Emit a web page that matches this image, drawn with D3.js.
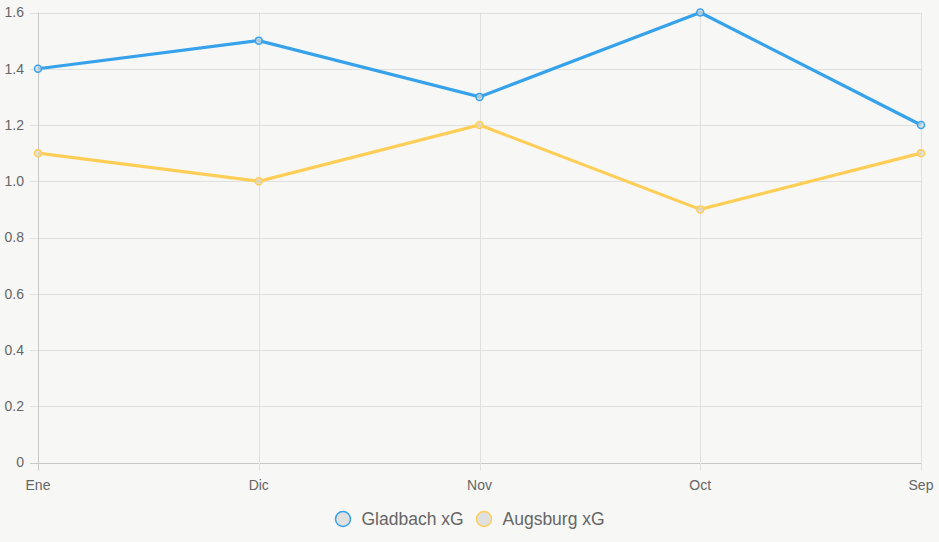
<!DOCTYPE html>
<html>
<head>
<meta charset="utf-8">
<script src="https://cdn.jsdelivr.net/npm/d3@7"></script>
<style>
  body { margin: 0; background: #f7f7f5; }
  svg { display: block; }
</style>
</head>
<body>
<div id="chart"></div>
<script>
// Data
var months = ["Ene", "Dic", "Nov", "Oct", "Sep"];
var gladbach = [1.4, 1.5, 1.3, 1.6, 1.2];
var augsburg = [1.1, 1.0, 1.2, 0.9, 1.1];
var yTicks = [0, 0.2, 0.4, 0.6, 0.8, 1.0, 1.2, 1.4, 1.6];
var seriesNames = ["Gladbach xG", "Augsburg xG"];
var colors = ["#36a2eb", "#ffce56"];

// plot area (top is reserved by window, so use other names)
var w = 939, h = 542;
var plotLeft = 38, plotRight = 921, plotTop = 12.5, plotBottom = 462.5;

var svg = d3.select("#chart").append("svg")
    .attr("width", w)
    .attr("height", h)
    .style("font-family", "'Liberation Sans', Arial, sans-serif");

var xScale = d3.scalePoint().domain(months).range([plotLeft, plotRight]);
var yScale = d3.scaleLinear().domain([0, 1.6]).range([plotBottom, plotTop]);

// grid lines
svg.append("g").selectAll("line")
    .data(yTicks)
    .enter().append("line")
    .attr("x1", plotLeft - 8).attr("x2", plotRight)
    .attr("y1", function (d) { return Math.round(yScale(d)) + 0.5; })
    .attr("y2", function (d) { return Math.round(yScale(d)) + 0.5; })
    .style("stroke", function (d) { return d === 0 ? "#c8c8c8" : "#e0e0e0"; })
    .style("stroke-width", 1);

svg.append("g").selectAll("line")
    .data(months)
    .enter().append("line")
    .attr("x1", function (d) { return Math.round(xScale(d)) + 0.5; })
    .attr("x2", function (d) { return Math.round(xScale(d)) + 0.5; })
    .attr("y1", plotTop).attr("y2", plotBottom + 8)
    .style("stroke", function (d, i) { return i === 0 ? "#c8c8c8" : "#e0e0e0"; })
    .style("stroke-width", 1);

// y tick labels
svg.append("g").selectAll("text")
    .data(yTicks)
    .enter().append("text")
    .attr("x", plotLeft - 14)
    .attr("y", function (d) { return yScale(d); })
    .attr("dy", "0.35em")
    .attr("text-anchor", "end")
    .style("font-size", "14px")
    .style("fill", "#666")
    .text(function (d) { return d === 0 ? "0" : d.toFixed(1); });

// x tick labels
svg.append("g").selectAll("text")
    .data(months)
    .enter().append("text")
    .attr("x", function (d) { return xScale(d); })
    .attr("y", plotBottom + 27.5)
    .attr("text-anchor", "middle")
    .style("font-size", "14px")
    .style("fill", "#666")
    .text(function (d) { return d; });

var line = d3.line()
    .x(function (d, i) { return xScale(months[i]); })
    .y(function (d) { return yScale(d); });

[gladbach, augsburg].forEach(function (values, s) {
    svg.append("path")
        .datum(values)
        .attr("d", line)
        .style("fill", "none")
        .style("stroke", colors[s])
        .style("stroke-width", 3.2);

    svg.append("g").selectAll("circle")
        .data(values)
        .enter().append("circle")
        .attr("cx", function (d, i) { return xScale(months[i]); })
        .attr("cy", function (d) { return yScale(d); })
        .attr("r", 3.5)
        .style("fill", "#d9d9d9")
        .style("fill-opacity", 0.7)
        .style("stroke", colors[s])
        .style("stroke-width", 1.5);
});

// legend
var legendX = [343, 484];
seriesNames.forEach(function (name, s) {
    svg.append("circle")
        .attr("cx", legendX[s])
        .attr("cy", 519)
        .attr("r", 7.5)
        .style("fill", "#e0e0e0")
        .style("stroke", colors[s])
        .style("stroke-width", 1.5);
    svg.append("text")
        .attr("x", legendX[s] + 18.5)
        .attr("y", 519)
        .attr("dy", "0.35em")
        .style("font-size", "17.5px")
        .style("fill", "#666")
        .text(name);
});
</script>
</body>
</html>
